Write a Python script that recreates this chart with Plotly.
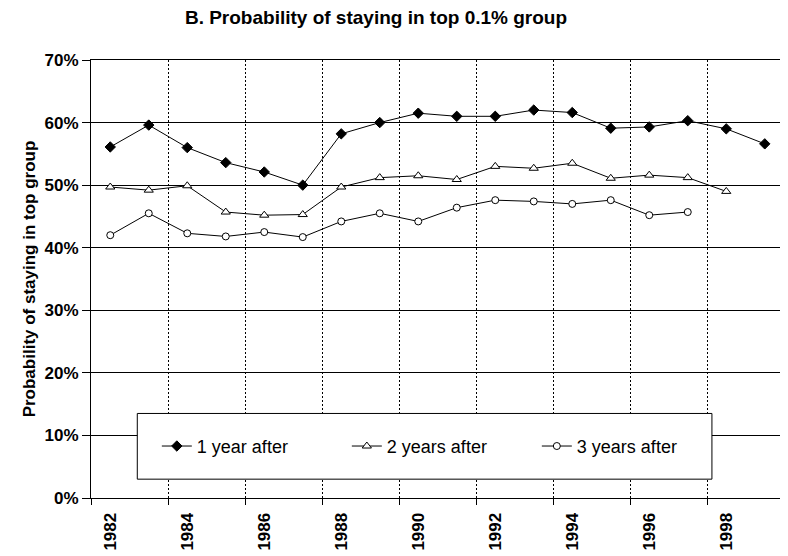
import plotly.graph_objects as go

years = list(range(1982, 2000))
one_year = [56.1, 59.6, 56.0, 53.6, 52.1, 50.0, 58.2, 60.0, 61.5, 61.0, 61.0, 62.0, 61.6, 59.1, 59.3, 60.3, 59.0, 56.6]
two_years = [49.7, 49.2, 49.9, 45.7, 45.2, 45.3, 49.7, 51.2, 51.5, 50.9, 53.0, 52.7, 53.5, 51.1, 51.6, 51.2, 49.0]
three_years = [42.0, 45.5, 42.3, 41.8, 42.5, 41.7, 44.2, 45.5, 44.2, 46.4, 47.6, 47.4, 47.0, 47.6, 45.2, 45.7]
series_names = ["1 year after", "2 years after", "3 years after"]
tick_years = years[::2]
boundaries = [y - 0.5 for y in tick_years]
y_ticks = [0, 10, 20, 30, 40, 50, 60, 70]

FONT = "Liberation Sans, Arial, sans-serif"
OFF = 8  # default page body margin
W, H = 788 - OFF, 556 - OFF

fig = go.Figure()
fig.add_trace(go.Scatter(
    x=years[:len(one_year)], y=one_year, name=series_names[0], mode="lines+markers",
    line=dict(color="black", width=1),
    marker=dict(symbol="diamond", size=8, color="black", line=dict(color="black", width=1)),
))
fig.add_trace(go.Scatter(
    x=years[:len(two_years)], y=two_years, name=series_names[1], mode="lines+markers",
    line=dict(color="black", width=1),
    marker=dict(symbol="triangle-up", size=8, color="white", line=dict(color="black", width=1)),
))
fig.add_trace(go.Scatter(
    x=years[:len(three_years)], y=three_years, name=series_names[2], mode="lines+markers",
    line=dict(color="black", width=1),
    marker=dict(symbol="circle", size=7, color="white", line=dict(color="black", width=1)),
))

# legend frame (white box, drawn above gridlines)
fig.add_shape(type="rect", xref="paper", yref="paper",
              x0=0.0668, x1=0.896, y0=0.043, y1=0.193,
              fillcolor="white", line=dict(color="black", width=1), layer="above")

fig.update_layout(
    width=W, height=H,
    margin=dict(l=91 - OFF, r=4, t=60 - OFF, b=58, autoexpand=False),
    paper_bgcolor="white", plot_bgcolor="white",
    font=dict(family=FONT, color="black"),
    title=dict(text="<b>B. Probability of staying in top 0.1% group</b>",
               x=(376 - OFF) / W, xanchor="center", xref="container",
               y=1 - (17 - OFF) / H, yanchor="middle", yref="container",
               font=dict(size=19, family=FONT, color="black")),
    showlegend=True,
    legend=dict(orientation="h", x=0.095, xanchor="left", y=0.118, yanchor="middle",
                bgcolor="rgba(0,0,0,0)", borderwidth=0,
                font=dict(size=18, family=FONT, color="black"),
                entrywidth=145, entrywidthmode="pixels"),
    xaxis=dict(
        range=[1981.5, 1999.5], tickmode="array", tickvals=tick_years,
        ticktext=[f"<b>{y}</b>" for y in tick_years], tickangle=-90,
        ticks="", showgrid=False, zeroline=False,
        showline=True, linecolor="black", linewidth=1, mirror=True,
        tickfont=dict(size=17, family=FONT, color="black"),
        ticklabelstandoff=7,
        minor=dict(tickmode="array", tickvals=boundaries, ticks="outside", ticklen=6,
                   tickcolor="black", showgrid=True, gridcolor="black",
                   griddash="2px,2px", gridwidth=1),
    ),
    yaxis=dict(
        range=[0, 70], tickmode="array", tickvals=y_ticks,
        ticktext=[f"<b>{v}%</b>" for v in y_ticks],
        ticks="outside", ticklen=8, tickcolor="black",
        showgrid=True, gridcolor="black", gridwidth=1, zeroline=False,
        showline=True, linecolor="black", linewidth=1, mirror=True,
        tickfont=dict(size=17, family=FONT, color="black"),
        title=dict(text="<b>Probability of staying in top group</b>",
                   font=dict(size=17, family=FONT, color="black"), standoff=4),
    ),
)

fig.write_html("out.html")
